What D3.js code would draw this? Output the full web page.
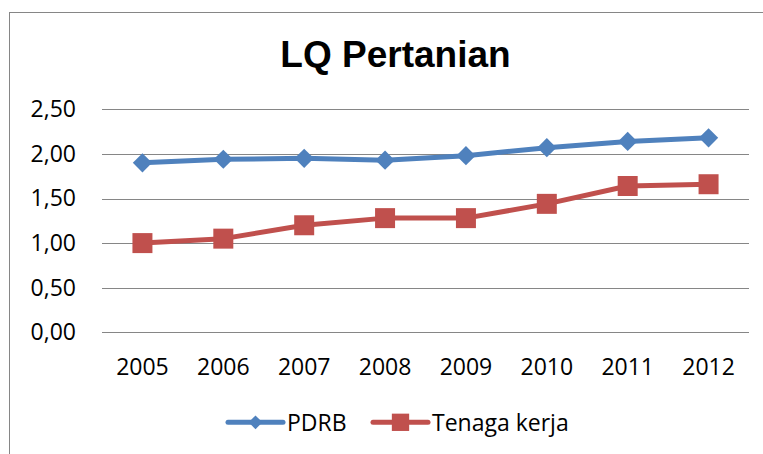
<!DOCTYPE html>
<html>
<head>
<meta charset="utf-8">
<script src="https://cdn.jsdelivr.net/npm/d3@7"></script>
<style>
  html, body { margin: 0; padding: 0; background: #fff; }
  svg { display: block; }
  text { font-family: "Open Sans", sans-serif; fill: #000; }
</style>
</head>
<body>
<svg id="chart" width="763" height="454"></svg>
<script>
const title = "LQ Pertanian";
const years = ["2005", "2006", "2007", "2008", "2009", "2010", "2011", "2012"];
const pdrb = [1.90, 1.94, 1.95, 1.93, 1.98, 2.07, 2.14, 2.18];
const tenagaKerja = [1.00, 1.05, 1.20, 1.28, 1.28, 1.44, 1.64, 1.66];
const yTicks = [0, 0.5, 1.0, 1.5, 2.0, 2.5];
const seriesNames = ["PDRB", "Tenaga kerja"];
const seriesColors = ["#4F81BD", "#C0504D"];

const svg = d3.select("#chart");
const plot = { left: 102, right: 749, top: 109.3, bottom: 332.3 };
const FONT = "'Open Sans', sans-serif";

// border
svg.append("rect")
  .attr("x", 9.5).attr("y", 12.5)
  .attr("width", 800).attr("height", 500)
  .attr("fill", "none").attr("stroke", "#868686").attr("stroke-width", 1);

// title
svg.append("text")
  .attr("x", 395.5).attr("y", 67)
  .attr("text-anchor", "middle")
  .style("font-family", "'Liberation Sans', Arial, sans-serif")
  .style("font-weight", "bold")
  .style("font-size", "37px")
  .text(title);

const x = d3.scaleBand().domain(years).range([plot.left, plot.right]);
const y = d3.scaleLinear().domain([0, 2.5]).range([plot.bottom, plot.top]);
const fmt = v => d3.format(".2f")(v).replace(".", ",");

// gridlines
svg.append("g").selectAll("line").data(yTicks).join("line")
  .attr("x1", plot.left).attr("x2", plot.right)
  .attr("y1", d => Math.round(y(d)) + 0.5).attr("y2", d => Math.round(y(d)) + 0.5)
  .attr("stroke", "#868686").attr("stroke-width", 1);

// y axis labels
const yAxis = d3.axisLeft(y).tickValues(yTicks).tickFormat(fmt).tickSize(0).tickPadding(0);
const gy = svg.append("g").attr("transform", "translate(76,0)").call(yAxis);
gy.select(".domain").remove();
gy.selectAll("text")
  .style("font-family", FONT)
  .style("font-size", "23px").attr("fill", "#000");

// x axis labels
const xAxis = d3.axisBottom(x).tickSize(0).tickPadding(0);
const gx = svg.append("g").attr("transform", "translate(0,359)").call(xAxis);
gx.select(".domain").remove();
gx.selectAll("text")
  .style("font-family", FONT)
  .style("font-size", "23px").attr("fill", "#000");

const cx = d => x(d) + x.bandwidth() / 2;
const line = d3.line().x((d, i) => cx(years[i])).y(d => y(d));

const diamond = d3.symbol().type(d3.symbolSquare).size(185);
const square = d3.symbol().type(d3.symbolSquare).size(400);

// PDRB
svg.append("path").datum(pdrb).attr("d", line)
  .attr("fill", "none").attr("stroke", seriesColors[0]).attr("stroke-width", 5)
  .attr("stroke-linejoin", "round");
svg.append("g").selectAll("path").data(pdrb).join("path")
  .attr("d", diamond)
  .attr("transform", (d, i) => `translate(${cx(years[i])},${y(d)}) rotate(45)`)
  .attr("fill", seriesColors[0]);

// Tenaga kerja
svg.append("path").datum(tenagaKerja).attr("d", line)
  .attr("fill", "none").attr("stroke", seriesColors[1]).attr("stroke-width", 5)
  .attr("stroke-linejoin", "round");
svg.append("g").selectAll("path").data(tenagaKerja).join("path")
  .attr("d", square)
  .attr("transform", (d, i) => `translate(${cx(years[i])},${y(d)})`)
  .attr("fill", seriesColors[1]);

// legend
const legY = 422.3;
const leg = [
  { x1: 228, x2: 283, tx: 287, sym: d3.symbol().type(d3.symbolSquare).size(95), rot: 45 },
  { x1: 373, x2: 428, tx: 432, sym: d3.symbol().type(d3.symbolSquare).size(300), rot: 0 }
];
leg.forEach((l, i) => {
  svg.append("line").attr("x1", l.x1).attr("x2", l.x2).attr("y1", legY).attr("y2", legY)
    .attr("stroke", seriesColors[i]).attr("stroke-width", 5).attr("stroke-linecap", "round");
  svg.append("path").attr("d", l.sym)
    .attr("transform", `translate(${(l.x1 + l.x2) / 2},${legY}) rotate(${l.rot})`)
    .attr("fill", seriesColors[i]);
  svg.append("text").attr("x", l.tx).attr("y", 430.7)
    .style("font-family", FONT)
    .style("font-size", "23px").text(seriesNames[i]);
});
</script>
</body>
</html>
